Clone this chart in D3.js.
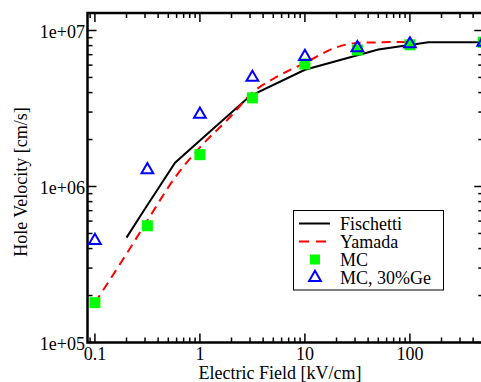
<!DOCTYPE html>
<html>
<head>
<meta charset="utf-8">
<script src="https://cdn.jsdelivr.net/npm/d3@7"></script>
<style>
  body { margin: 0; background: #fff; }
  svg { display: block; font-family: "Liberation Serif", "DejaVu Serif", serif; }
</style>
</head>
<body>
<svg id="chart" width="481" height="382"></svg>
<script>
// hole drift velocity vs electric field
const fischettiField = [0.2, 0.3, 0.58, 1, 3, 10, 50, 150, 500];
const fischettiVel = [4.7e5, 7.2e5, 1.42e6, 1.97e6, 3.8e6, 5.6e6, 7.55e6, 8.4e6, 8.4e6];

const yamadaField = [0.1, 0.2, 0.316, 0.6, 1, 2, 3.16, 5, 10, 20, 30, 50, 100];
const yamadaVel = [1.8e5, 3.7e5, 6.05e5, 1.18e6, 1.78e6, 2.85e6, 4.0e6, 4.9e6, 6.2e6, 7.8e6, 8.3e6, 8.4e6, 8.45e6];

const mcField = [0.1, 0.316, 1, 3.16, 10, 31.6, 100, 500];
const mcVel = [1.8e5, 5.6e5, 1.6e6, 3.7e6, 6.1e6, 7.5e6, 8.1e6, 8.4e6];

const geField = [0.1, 0.316, 1, 3.16, 10, 31.6, 100, 500];
const geVel = [4.5e5, 1.28e6, 2.9e6, 5.0e6, 6.8e6, 7.75e6, 8.2e6, 8.4e6];

const xMajor = [0.1, 1, 10, 100];
const xLabels = ["0.1", "1", "10", "100"];
const yMajor = [1e5, 1e6, 1e7];
const yLabels = ["1e+05", "1e+06", "1e+07"];

const legendNames = ["Fischetti", "Yamada", "MC", "MC, 30%Ge"];

const svg = d3.select("#chart");
const pLeft = 87.5, pRight = 483.3, pTop = 13, pBottom = 342.5;

const x = d3.scaleLog().domain([0.085, 500]).range([pLeft, pRight]);
const y = d3.scaleLog().domain([1e5, Math.pow(10, 7 + 17.5 / 156)]).range([pBottom, pTop]);

// minor ticks: 1..9 in each decade
function minors(lo, hi) {
  const out = [];
  for (let d = lo; d < hi; d *= 10) {
    for (let k = 1; k <= 9; k++) out.push(d * k);
  }
  return out;
}
const xTicks = minors(0.01, 1000).filter(v => v >= 0.085 && v <= 500);
const yTicks = minors(1e5, 1e7).concat([1e7]);
const isMajor = v => Math.abs(Math.log10(v) - Math.round(Math.log10(v))) < 1e-6;

const fontSize = 18;

const gTicks = svg.append("g");
xTicks.forEach(v => {
  const len = isMajor(v) ? 9 : 5;
  gTicks.append("line").attr("x1", x(v)).attr("x2", x(v))
    .attr("y1", pBottom).attr("y2", pBottom - len);
  gTicks.append("line").attr("x1", x(v)).attr("x2", x(v))
    .attr("y1", pTop).attr("y2", pTop + len);
});
yTicks.forEach(v => {
  const len = isMajor(v) ? 9 : 5;
  gTicks.append("line").attr("x1", pLeft).attr("x2", pLeft + len)
    .attr("y1", y(v)).attr("y2", y(v));
  gTicks.append("line").attr("x1", pRight).attr("x2", pRight - len)
    .attr("y1", y(v)).attr("y2", y(v));
});
gTicks.selectAll("line").attr("stroke", "#000").attr("stroke-width", 1.5);

// frame
svg.append("rect")
  .attr("x", pLeft).attr("y", pTop)
  .attr("width", pRight - pLeft).attr("height", pBottom - pTop)
  .attr("fill", "none").attr("stroke", "#000").attr("stroke-width", 2.5);

// tick labels
svg.append("g").selectAll("text").data(xMajor).join("text")
  .attr("x", d => x(d)).attr("y", 360)
  .attr("text-anchor", "middle")
  .attr("font-size", fontSize)
  .text((d, i) => xLabels[i]);

svg.append("g").selectAll("text").data(yMajor).join("text")
  .attr("x", 85).attr("y", d => y(d) + 7)
  .attr("text-anchor", "end")
  .attr("font-size", fontSize)
  .text((d, i) => yLabels[i]);

svg.append("text")
  .attr("x", 280).attr("y", 379)
  .attr("text-anchor", "middle")
  .attr("font-size", fontSize)
  .text("Electric Field [kV/cm]");

svg.append("text")
  .attr("transform", "translate(27,182) rotate(-90)")
  .attr("text-anchor", "middle")
  .attr("font-size", fontSize)
  .text("Hole Velocity [cm/s]");

const line = d3.line().x(d => x(d[0])).y(d => y(d[1]));

svg.append("path")
  .datum(fischettiField.map((f, i) => [f, fischettiVel[i]]))
  .attr("d", line)
  .attr("fill", "none").attr("stroke", "#000").attr("stroke-width", 2);

svg.append("path")
  .datum(yamadaField.map((f, i) => [f, yamadaVel[i]]))
  .attr("d", line.curve(d3.curveMonotoneX))
  .attr("fill", "none").attr("stroke", "#ff0000").attr("stroke-width", 2)
  .attr("stroke-dasharray", "9,6");

const sq = 11;
svg.append("g").selectAll("rect").data(mcField.map((f, i) => [f, mcVel[i]])).join("rect")
  .attr("x", d => x(d[0]) - sq / 2).attr("y", d => y(d[1]) - sq / 2)
  .attr("width", sq).attr("height", sq)
  .attr("fill", "#00ff00");

const tri = d3.symbol().type(d3.symbolTriangle).size(60);
svg.append("g").selectAll("path").data(geField.map((f, i) => [f, geVel[i]])).join("path")
  .attr("transform", d => `translate(${x(d[0])},${y(d[1])})`)
  .attr("d", tri)
  .attr("fill", "none").attr("stroke", "#0000ff").attr("stroke-width", 2);

// legend
const lg = svg.append("g");
lg.append("rect")
  .attr("x", 293.5).attr("y", 210.5).attr("width", 150).attr("height", 79.5)
  .attr("fill", "#fff").attr("stroke", "#000").attr("stroke-width", 1);
const rowY = [223.5, 241.5, 259.5, 277.5];
lg.append("line").attr("x1", 299).attr("x2", 330).attr("y1", rowY[0]).attr("y2", rowY[0])
  .attr("stroke", "#000").attr("stroke-width", 2);
lg.append("line").attr("x1", 299).attr("x2", 330).attr("y1", rowY[1]).attr("y2", rowY[1])
  .attr("stroke", "#ff0000").attr("stroke-width", 2).attr("stroke-dasharray", "10,7");
lg.append("rect").attr("x", 315 - 5).attr("y", rowY[2] - 5).attr("width", 10).attr("height", 10)
  .attr("fill", "#00ff00");
lg.append("path").attr("transform", `translate(315,${rowY[3]})`).attr("d", tri)
  .attr("fill", "none").attr("stroke", "#0000ff").attr("stroke-width", 2);
lg.selectAll("text.lab").data(legendNames).join("text")
  .attr("class", "lab")
  .attr("x", 340).attr("y", (d, i) => rowY[i] + 6)
  .attr("font-size", fontSize)
  .text(d => d);
</script>
</body>
</html>
